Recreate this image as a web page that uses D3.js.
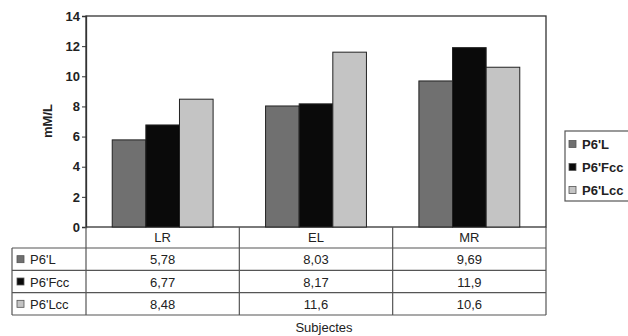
<!DOCTYPE html>
<html><head><meta charset="utf-8">
<script src="https://cdn.jsdelivr.net/npm/d3@7"></script>
<style>
body{margin:0;background:#fff;}
svg{display:block;font-family:"Liberation Sans",Arial,sans-serif;}
</style></head>
<body><svg id="c" width="628" height="336"></svg>
<script>
const categories = ["LR", "EL", "MR"];
const seriesNames = ["P6'L", "P6'Fcc", "P6'Lcc"];
const valuesP6L = [5.78, 8.03, 9.69];
const valuesP6Fcc = [6.77, 8.17, 11.9];
const valuesP6Lcc = [8.48, 11.6, 10.6];
const yTicks = [0, 2, 4, 6, 8, 10, 12, 14];
const colors = ["#707070", "#0a0a0a", "#c4c4c4"];

(function(){
const seriesValues = [valuesP6L, valuesP6Fcc, valuesP6Lcc];
const svg = d3.select("#c");
const pLeft = 86, pRight = 546, pTop = 16, pBottom = 227;

const x = d3.scaleBand().domain(categories).range([pLeft, pRight]);
const xs = d3.scaleBand().domain(seriesNames).range([0, x.bandwidth()]).paddingOuter(0.78);
const y = d3.scaleLinear().domain([0, 14]).range([pBottom, pTop]);

// plot frame
svg.append("rect").attr("x", pLeft).attr("y", pTop).attr("width", pRight-pLeft).attr("height", pBottom-pTop)
  .attr("fill", "none").attr("stroke", "#333").attr("stroke-width", 1.3);

// bars
seriesNames.forEach((s, si) => {
  svg.append("g").selectAll("rect").data(categories).join("rect")
    .attr("x", (c) => x(c) + xs(s))
    .attr("y", (c, i) => y(seriesValues[si][i]))
    .attr("width", xs.bandwidth())
    .attr("height", (c, i) => y(0) - y(seriesValues[si][i]))
    .attr("fill", colors[si]).attr("stroke", "#222").attr("stroke-width", 1);
});

// y axis
const yAxis = d3.axisLeft(y).tickValues(yTicks).tickSize(4).tickPadding(2).tickFormat(d3.format("d"));
const ga = svg.append("g").attr("transform", `translate(${pLeft},0)`).call(yAxis);
ga.select(".domain").attr("stroke", "#333").attr("stroke-width", 1.3);
ga.selectAll(".tick line").attr("stroke", "#333");
ga.selectAll("text").attr("font-size", 13).attr("font-weight", "bold").attr("fill", "#222")
  .attr("font-family", "Liberation Sans, Arial, sans-serif");

svg.append("text").attr("transform", "translate(52,121) rotate(-90)").attr("text-anchor", "middle")
  .attr("font-size", 13).attr("font-weight", "bold").attr("fill", "#222").text("mM/L");

// data table
const tableLeft = 12;
const rowY = d3.scaleBand().domain(seriesNames).range([248, 315]);
const lineColor = "#555";
const tg = svg.append("g");
categories.forEach(c => {
  tg.append("text").attr("x", x(c) + x.bandwidth()/2).attr("y", 242).attr("text-anchor", "middle")
    .attr("font-size", 13).attr("fill", "#222").text(c);
});
[248, ...seriesNames.map(s => rowY(s) + rowY.bandwidth())].forEach(yy => {
  tg.append("line").attr("x1", tableLeft).attr("x2", pRight).attr("y1", yy).attr("y2", yy)
    .attr("stroke", lineColor).attr("stroke-width", 1.2);
});
tg.append("line").attr("x1", tableLeft).attr("x2", tableLeft).attr("y1", 248).attr("y2", 315).attr("stroke", lineColor).attr("stroke-width", 1.2);
[pLeft, ...categories.map(c => x(c) + x.bandwidth())].forEach(xx => {
  tg.append("line").attr("x1", xx).attr("x2", xx).attr("y1", pBottom).attr("y2", 315).attr("stroke", lineColor).attr("stroke-width", 1.2);
});
seriesNames.forEach((s, si) => {
  const cy = rowY(s) + rowY.bandwidth()/2;
  tg.append("rect").attr("x", 17).attr("y", cy - 3.5).attr("width", 7).attr("height", 7)
    .attr("fill", colors[si]).attr("stroke", "#555").attr("stroke-width", 0.8);
  tg.append("text").attr("x", 30).attr("y", cy + 5).attr("font-size", 13).attr("fill", "#222").text(s);
  categories.forEach((c, ci) => {
    tg.append("text").attr("x", x(c) + x.bandwidth()/2).attr("y", cy + 5).attr("text-anchor", "middle")
      .attr("font-size", 13).attr("fill", "#222").text(String(seriesValues[si][ci]).replace(".", ","));
  });
});

svg.append("text").attr("x", 324).attr("y", 332).attr("text-anchor", "middle")
  .attr("font-size", 13).attr("fill", "#222").text("Subjectes");

// legend
const lg = svg.append("g");
lg.append("rect").attr("x", 565).attr("y", 131).attr("width", 80).attr("height", 70)
  .attr("fill", "#fff").attr("stroke", "#555").attr("stroke-width", 1.2);
seriesNames.forEach((s, si) => {
  const cy = 144 + si * 23;
  lg.append("rect").attr("x", 569).attr("y", cy - 3.5).attr("width", 7).attr("height", 7)
    .attr("fill", colors[si]).attr("stroke", "#555").attr("stroke-width", 0.8);
  lg.append("text").attr("x", 582).attr("y", cy + 5).attr("font-size", 13).attr("font-weight", "bold")
    .attr("fill", "#222").text(s);
});
})();
</script></body></html>
